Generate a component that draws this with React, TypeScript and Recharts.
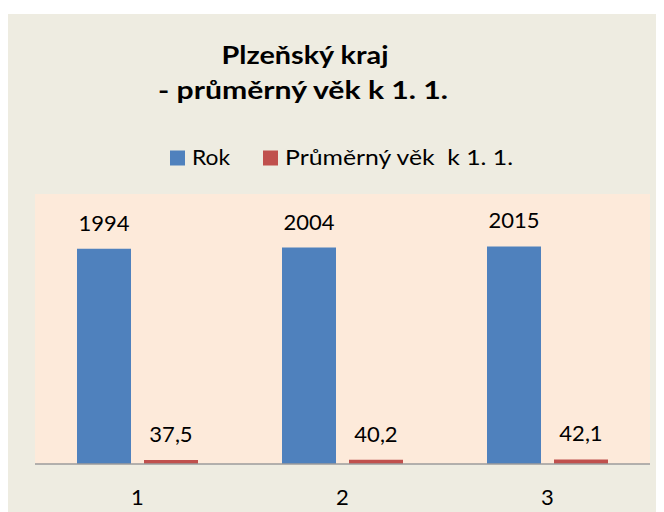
import React from 'react';
import { BarChart, Bar, XAxis, YAxis, CartesianGrid, LabelList, Legend } from 'recharts';

const categories = ['1', '2', '3'];
const rokValues = [1994, 2004, 2015];
const vekValues = [37.5, 40.2, 42.1];
const seriesNames = ['Rok', 'Průměrný věk  k 1. 1.'];
const titleLines = ['Plzeňský kraj', '- průměrný věk k 1. 1.'];
const yDomain = [0, 2500];

const BLUE = '#4F81BD';
const RED = '#C0504D';
const BG = '#EEECE1';
const PLOT_BG = '#FDEADA';
const FONT = 'Lato, "Open Sans", sans-serif';

const data = categories.map((c, i) => ({ cat: c, rok: rokValues[i], vek: vekValues[i] }));

const fmt = (v: any) => String(v).replace('.', ',');

const W = 656;
const H = 498;

const legendLayout = [
  { sq: 162, tx: 184, tl: 38 },
  { sq: 255, tx: 277, tl: 228 },
];

const LegendContent = (props: any) => {
  const payload = props.payload || [];
  return (
    <svg width={W} height={170} style={{ display: 'block', overflow: 'visible' }}>
      {payload.map((p: any) => {
        const idx = seriesNames.indexOf(p.value);
        const l = legendLayout[idx];
        if (!l) return null;
        return (
          <g key={p.value}>
            <rect x={l.sq} y={136.5} width={15} height={15} fill={p.color} />
            <text
              x={l.tx}
              y={150.7}
              fontFamily={FONT}
              fontSize={22}
              fill="#000"
              textLength={l.tl}
              lengthAdjust="spacingAndGlyphs"
              style={{ whiteSpace: 'pre' }}
            >
              {p.value}
            </text>
          </g>
        );
      })}
    </svg>
  );
};

const Tick = (props: any) => {
  const { x, y, payload } = props;
  return (
    <text x={x} y={y + 41} textAnchor="middle" fontFamily={FONT} fontSize={22} fill="#000">
      {payload.value}
    </text>
  );
};

export default function App() {
  return (
    <div style={{ position: 'relative', width: W, height: H, marginTop: 6, background: BG }}>
      <svg width={W} height={110} style={{ position: 'absolute', left: 0, top: 0 }}>
        <text x={297} y={50} textAnchor="middle" fontFamily={FONT} fontWeight={700} fontSize={25} fill="#000" textLength={167} lengthAdjust="spacingAndGlyphs">
          {titleLines[0]}
        </text>
        <text x={295} y={85} textAnchor="middle" fontFamily={FONT} fontWeight={700} fontSize={25} fill="#000" textLength={290} lengthAdjust="spacingAndGlyphs">
          {titleLines[1]}
        </text>
      </svg>
      <BarChart
        width={W}
        height={H}
        data={data}
        margin={{ top: 180, right: 14, left: 27, bottom: 0 }}
        barSize={54}
        barGap={13}
        style={{ position: 'absolute', left: 0, top: 0 }}
      >
        <CartesianGrid fill={PLOT_BG} horizontal={false} vertical={false} stroke="none" />
        <YAxis hide domain={yDomain} />
        <XAxis
          dataKey="cat"
          height={48}
          axisLine={{ stroke: '#9B9B9B', strokeWidth: 1.5 }}
          tickLine={false}
          tickSize={0}
          tickMargin={0}
          interval={0}
          tick={<Tick />}
        />
        <Legend
          verticalAlign="middle"
          layout="horizontal"
          content={<LegendContent />}
          wrapperStyle={{ position: 'absolute', top: 0, left: 0, width: W, height: 170 }}
        />
        <Bar dataKey="rok" name={seriesNames[0]} fill={BLUE} isAnimationActive={false}>
          <LabelList dataKey="rok" position="top" offset={18} formatter={fmt} fill="#000" fontSize={22} fontFamily={FONT} />
        </Bar>
        <Bar dataKey="vek" name={seriesNames[1]} fill={RED} isAnimationActive={false}>
          <LabelList dataKey="vek" position="top" offset={18} formatter={fmt} fill="#000" fontSize={22} fontFamily={FONT} />
        </Bar>
      </BarChart>
    </div>
  );
}
